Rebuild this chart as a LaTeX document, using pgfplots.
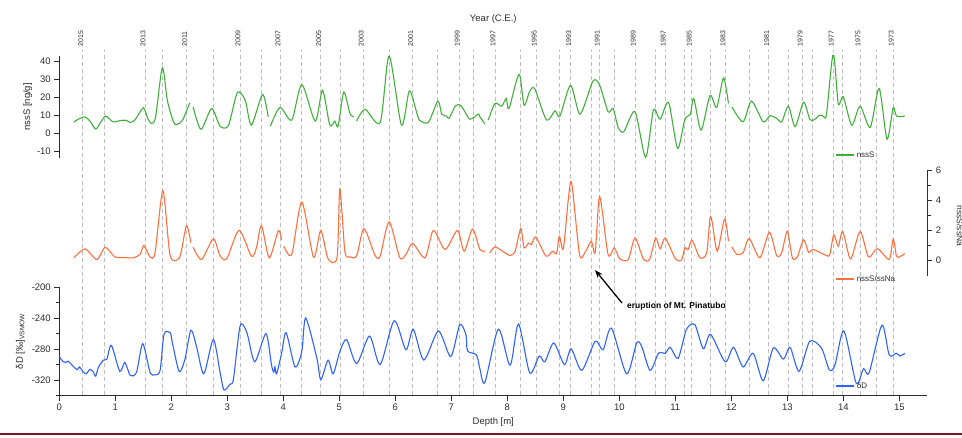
\documentclass[border=0pt]{standalone}
\usepackage{pgfplots}
\pgfplotsset{compat=1.18}
\usepackage{fontspec}
\setmainfont{Liberation Sans}
\usetikzlibrary{arrows.meta}

\definecolor{cgreen}{RGB}{64,176,58}
\definecolor{corange}{RGB}{255,112,62}
\definecolor{cblue}{RGB}{48,98,255}
\definecolor{txt}{RGB}{45,45,45}
\definecolor{gridgray}{RGB}{190,190,190}
\definecolor{darkred}{RGB}{120,25,40}

\pgfplotsset{
  panel/.style={
    scale only axis, width=868pt, xmin=0, xmax=15.5, anchor=south west,
    /pgf/number format/assume math mode=true,
    ticklabel style={font=\fontsize{9.5}{10}\selectfont, text=txt},
    label style={font=\fontsize{9.5}{11}\selectfont, text=txt},
    axis line style={line width=1pt, txt},
    tick style={line width=0.9pt, txt},
    major tick length=5pt, minor tick length=3.5pt,
    tick align=outside,
    every axis plot/.append style={line width=1.1pt, smooth, tension=0.45},
    unbounded coords=jump,
    legend cell align=left,
    legend image code/.code={\draw[#1, line width=1.3pt] (0pt,0pt) -- (18pt,0pt);},
    legend style={draw=none, fill=none, inner sep=0pt, anchor=west,
      font=\fontsize{8}{9}\selectfont, text=txt},
  },
}

\begin{document}
\begin{tikzpicture}[x=1pt,y=1pt]

% year grid
\begin{axis}[panel, at={(59.3pt,41.5pt)}, height=345.5pt, ymin=0, ymax=1,
  axis y line=none, axis x line*=top, axis line style={draw=none},
  major tick length=0pt,
  xtick={0.418,0.804,1.530,1.846,2.275,2.750,3.227,3.602,3.941,4.329,4.668,5.025,5.429,5.893,6.311,6.750,7.143,7.393,7.780,8.232,8.518,8.929,9.132,9.507,9.643,9.911,10.286,10.650,10.821,11.155,11.286,11.625,11.888,12.329,12.668,13.013,13.268,13.441,13.821,13.989,14.298,14.589,14.893},
  xticklabels={2015,{},2013,{},2011,{},2009,{},2007,{},2005,{},2003,{},2001,{},1999,{},1997,{},1995,{},1993,{},1991,{},1989,{},1987,{},1985,{},1983,{},1981,{},1979,{},1977,{},1975,{},1973},
  xticklabel style={rotate=90, anchor=west, font=\fontsize{7}{7}\selectfont, yshift=2pt},
  xmajorgrids, grid style={gridgray, dash pattern=on 4pt off 3pt, line width=0.6pt},
  xlabel={Year (C.E.)},
  xlabel style={yshift=1pt},
]
\end{axis}

% nssS
\begin{axis}[panel, at={(59.3pt,278.8pt)}, height=102.6pt, ymin=-14, ymax=43,
  axis x line=none, axis y line*=left,
  ytick={-10,0,10,20,30,40},
  ylabel={nssS [ng/g]},
  ylabel style={xshift=0pt, yshift=-2pt},
  legend style={at={(axis description cs:0.894,0.03)}},
]
\addplot[cgreen] coordinates {
(0.26,6.1)(0.36,8.0)(0.46,9.0)(0.55,6.5)(0.65,2.2)(0.74,6)(0.83,9.4)(0.96,6.2)(1.10,7.0)(1.20,7.0)(1.26,5.9)(1.35,7.2)(1.50,14.0)(1.58,8)(1.65,5.3)(1.72,9)(1.84,36.3)(1.93,18)(2.04,6.0)(2.10,4.8)(2.20,7)(2.33,16.8)(2.36,nan)(2.39,14.5)(2.53,2.0)(2.72,13.6)(2.87,3.8)(3.02,4.2)(3.18,22.5)(3.32,18.2)(3.43,4.4)(3.63,21.4)(3.73,9.0)(3.75,nan)(3.77,3.8)(3.94,14.2)(4.15,7.2)(4.33,26.9)(4.57,6.6)(4.70,23.8)(4.83,4.4)(4.92,6.6)(4.98,3.8)(5.08,22.8)(5.19,10.8)(5.26,9.0)(5.285,nan)(5.31,6.6)(5.46,13.2)(5.73,5.9)(5.89,42.8)(6.11,4.4)(6.25,23.4)(6.37,12.7)(6.43,7.2)(6.59,5.9)(6.76,17.7)(6.83,10.5)(6.92,9.4)(6.96,8.1)(7.08,15.3)(7.18,15.0)(7.33,7.7)(7.48,10.5)(7.51,9.0)(7.60,5.0)(7.63,nan)(7.66,7.2)(7.78,16.4)(7.90,14.9)(7.98,19.2)(8.03,13.6)(8.21,32.6)(8.30,15.5)(8.40,23.2)(8.49,24.5)(8.70,7.2)(8.85,12.3)(8.94,9.4)(9.13,26.5)(9.30,10.5)(9.53,28.9)(9.65,26.5)(9.80,11.8)(9.89,13.6)(9.98,3.1)(10.08,0.7)(10.28,11.8)(10.47,-13.5)(10.61,12.7)(10.73,7.7)(10.88,16.9)(11.04,-8.5)(11.17,7.5)(11.27,10.5)(11.33,19.2)(11.46,1.6)(11.62,20.8)(11.74,14.2)(11.86,30.6)(11.95,16.4)(11.98,nan)(12.01,14.5)(12.21,6.2)(12.36,17.7)(12.57,6.2)(12.69,9.6)(12.81,8.1)(12.90,6.2)(13.02,14.9)(13.14,3.5)(13.29,17.1)(13.40,7.7)(13.47,7.2)(13.58,9.9)(13.64,9.4)(13.70,10.5)(13.82,44.1)(13.91,16.4)(14.00,20.1)(14.15,4.4)(14.30,14.9)(14.48,3.1)(14.64,24.7)(14.78,-3.5)(14.89,14.0)(14.95,9.4)(15.10,9.4)
};
\addlegendentry{nssS}
\end{axis}

% nssS/ssNa
\begin{axis}[panel, at={(59.3pt,161.4pt)}, height=105.6pt, ymin=-1, ymax=6,
  axis x line=none, axis y line*=right,
  ytick={0,2,4,6}, minor ytick={1,3,5},
  legend style={at={(axis description cs:0.894,-0.032)}},
]
\addplot[corange] coordinates {
(0.26,0.18)(0.46,0.77)(0.67,0.07)(0.82,0.88)(0.99,0.24)(1.15,0.2)(1.32,0.18)(1.44,0.4)(1.51,0.99)(1.62,0.24)(1.71,0.5)(1.85,4.62)(1.98,0.33)(2.15,0.22)(2.27,2.31)(2.35,1.16)(2.37,nan)(2.39,0.88)(2.54,0.07)(2.75,1.43)(2.87,0.33)(2.99,0.11)(3.21,2.0)(3.43,0.29)(3.52,0.84)(3.61,2.31)(3.75,0.18)(3.91,1.98)(3.97,1.38)(3.99,nan)(4.01,0.95)(4.15,0.4)(4.33,3.87)(4.54,0.22)(4.67,2.0)(4.80,0.11)(4.96,0.2)(5.01,4.73)(5.10,0.6)(5.19,0.24)(5.31,0.3)(5.44,2.11)(5.64,0.33)(5.73,0.3)(5.89,2.57)(6.08,0.18)(6.20,0.46)(6.31,1.14)(6.53,0.18)(6.68,2.0)(6.89,0.73)(7.11,2.0)(7.23,0.62)(7.38,2.09)(7.51,0.73)(7.60,0.62)(7.64,nan)(7.69,0.51)(7.78,0.90)(7.96,0.51)(8.05,0.33)(8.14,0.62)(8.24,2.13)(8.30,0.84)(8.38,1.16)(8.43,1.05)(8.51,1.56)(8.69,0.29)(8.81,0.62)(8.88,0.46)(8.93,1.6)(9.00,0.77)(9.09,4.07)(9.15,5.12)(9.29,0.4)(9.39,0.55)(9.50,1.27)(9.57,0.55)(9.65,4.24)(9.80,0.4)(9.91,0.84)(10.01,0.11)(10.16,0.07)(10.28,1.49)(10.43,0.11)(10.54,0.07)(10.65,1.49)(10.73,0.77)(10.82,1.49)(11.00,0.13)(11.11,0.02)(11.17,0.84)(11.23,0.73)(11.30,1.34)(11.44,0.18)(11.56,0.51)(11.62,2.81)(11.66,2.53)(11.75,0.62)(11.88,2.75)(11.95,1.27)(11.98,nan)(12.01,0.9)(12.10,0.4)(12.21,0.51)(12.32,1.45)(12.51,0.18)(12.68,1.87)(12.81,0.33)(12.90,0.51)(13.00,1.93)(13.09,0.18)(13.18,0.24)(13.29,1.38)(13.38,0.55)(13.46,0.73)(13.70,0.33)(13.76,0.4)(13.83,1.71)(13.91,0.95)(13.99,1.93)(14.13,0.11)(14.30,1.93)(14.45,0.24)(14.61,0.79)(14.82,0.07)(14.89,1.43)(14.95,0.29)(15.00,0.24)(15.10,0.46)
};
\addlegendentry{nssS/ssNa}
\end{axis}

% deltaD
\begin{axis}[panel, at={(59.3pt,41.5pt)}, height=108.5pt, ymin=-340, ymax=-200,
  axis x line*=bottom, axis y line*=left,
  xtick={0,1,...,15},
  ytick={-320,-280,-240,-200}, minor ytick={-340,-300,-260,-220},
  xlabel={Depth [m]},
  ylabel={δD [‰]\textsubscript{VSMOW}},
  legend style={at={(axis description cs:0.894,0.088)}},
]
\addplot[cblue] coordinates {
(0,-289.9)(0.07,-296.5)(0.13,-297.0)(0.16,-295.7)(0.26,-303.2)(0.32,-306.7)(0.36,-303.2)(0.43,-309.8)(0.48,-312.0)(0.55,-306.3)(0.61,-309.8)(0.65,-315.1)(0.70,-303.2)(0.79,-294.3)(0.85,-293.0)(0.93,-275.3)(1.08,-308.9)(1.17,-297.4)(1.27,-314.3)(1.38,-309.8)(1.49,-273.1)(1.62,-309.8)(1.71,-313.4)(1.80,-307.6)(1.87,-261.1)(1.98,-258.9)(2.02,-272.2)(2.14,-308.9)(2.24,-294.3)(2.35,-255.8)(2.45,-276.6)(2.58,-312.0)(2.75,-267.8)(2.87,-309.8)(2.94,-332.9)(3.05,-325.3)(3.11,-318.7)(3.23,-250.0)(3.35,-258.9)(3.49,-296.5)(3.69,-260.2)(3.79,-301.0)(3.83,-309.8)(3.85,-303.0)(3.88,-312.0)(3.97,-285.5)(4.05,-258.9)(4.21,-303.2)(4.33,-283.3)(4.40,-239.9)(4.60,-292.1)(4.67,-319.6)(4.80,-294.3)(4.89,-312.0)(5.01,-283.3)(5.13,-267.8)(5.31,-298.8)(5.54,-263.3)(5.73,-300.1)(5.98,-243.4)(6.19,-281.0)(6.32,-254.5)(6.51,-294.3)(6.77,-256.7)(6.99,-289.9)(7.15,-248.7)(7.26,-261.1)(7.29,-282.4)(7.45,-287.7)(7.51,-305.4)(7.60,-323.1)(7.84,-254.5)(8.05,-301.0)(8.20,-247.8)(8.40,-310.7)(8.57,-289.0)(8.67,-296.5)(8.83,-272.2)(9.02,-300.1)(9.14,-279.7)(9.33,-307.6)(9.57,-270.0)(9.71,-281.0)(9.86,-253.1)(10.13,-312.0)(10.31,-272.2)(10.40,-276.6)(10.55,-307.6)(10.70,-285.5)(10.82,-285.5)(10.91,-277.9)(11.05,-292.1)(11.20,-254.5)(11.35,-248.7)(11.50,-279.7)(11.63,-261.1)(11.89,-296.5)(12.04,-277.9)(12.21,-303.2)(12.39,-285.5)(12.57,-320.9)(12.75,-278.8)(12.93,-293.0)(13.05,-277.9)(13.21,-308.9)(13.40,-270.0)(13.61,-278.8)(13.75,-306.7)(13.85,-301.0)(14.01,-256.7)(14.23,-324.0)(14.36,-305.4)(14.46,-310.7)(14.69,-249.2)(14.82,-287.7)(14.95,-285.5)(15.01,-289.0)(15.10,-285.5)
};
\addlegendentry{δD}
\end{axis}

% annotations
\draw[-{Stealth[length=8pt,width=6pt]}, line width=1.3pt, black] (622pt,134pt) -- (595pt,167pt);
\node[anchor=west, inner sep=0pt, font=\bfseries\fontsize{8.5}{9}\selectfont, text=black] at (627pt,130.3pt) {eruption of Mt. Pinatubo};
\node[rotate=-90, inner sep=0pt, font=\fontsize{8.5}{9}\selectfont, text=txt] at (960pt,211pt) {nssS/ssNa};
\draw[darkred, line width=1.2pt] (0pt,3pt) -- (962pt,3pt);

\pgfresetboundingbox
\useasboundingbox (0pt,0pt) rectangle (962pt,437pt);
\end{tikzpicture}
\end{document}
